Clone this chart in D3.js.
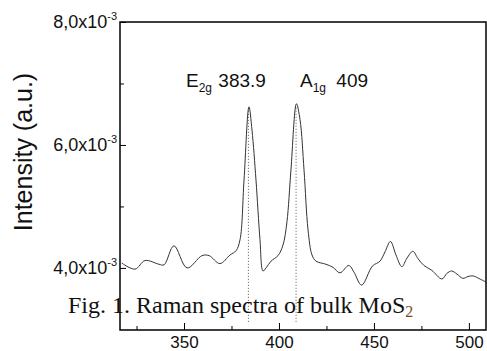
<!DOCTYPE html>
<html>
<head>
<meta charset="utf-8">
<script src="https://cdn.jsdelivr.net/npm/d3@7"></script>
<style>
  body { margin: 0; background: #fff; }
  text { font-family: "Liberation Sans", Arial, sans-serif; fill: #111; }
</style>
</head>
<body>
<div id="chart"></div>
<script>
// Raman shift (cm-1) and intensity (x1e-3)
const shift = [317.2, 324.2, 329.5, 336.8, 339.5, 344.7, 351.6, 359.5, 363.2, 368.9,
  374.2, 377.4, 379.5, 381.6, 384.2, 385.8, 387.9, 390.0, 391.6, 393.2,
  395.8, 399.5, 402.1, 404.2, 406.3, 409.2, 411.1, 413.2, 415.3, 417.4,
  419.5, 424.7, 428.4, 432.1, 436.8, 439.5, 443.5, 449.2, 453.2, 455.8,
  458.7, 461.6, 464.7, 467.4, 470.5, 473.2, 476.3, 480.5, 485.8, 488.4,
  490.9, 493.7, 496.8, 499.5, 502.1, 505.8, 509.0];
const intensity = [4.08, 3.98, 4.12, 4.06, 4.05, 4.36, 4.00, 4.20, 4.20, 4.07,
  4.21, 4.28, 4.46, 5.43, 6.62, 6.24, 5.43, 4.46, 3.95, 4.00,
  4.11, 4.20, 4.37, 4.75, 5.59, 6.67, 6.41, 5.59, 4.62, 4.21,
  4.11, 4.06, 4.01, 3.92, 4.04, 3.93, 3.72, 4.03, 4.11, 4.26,
  4.43, 4.21, 4.02, 4.16, 4.27, 4.15, 4.04, 3.96, 3.82, 3.91,
  3.95, 3.90, 3.83, 3.86, 3.87, 3.82, 3.77];

const xMajor = [350, 400, 450, 500];
const xMinor = [325, 375, 425, 475];
const yMajor = [4, 6, 8];
const yMinor = [5, 7];
const yTickText = ["4,0x10", "6,0x10", "8,0x10"];

// peak markers
const peakPos = [383.9, 409];
const peakTop = [6.62, 6.67];
const peakName = ["E", "A"];
const peakSub = ["2g", "1g"];
const peakVal = ["383.9", "409"];

const W = 487, H = 351;
const margin = { top: 22, right: 1, bottom: 21, left: 120 };
const width = W - margin.left - margin.right;
const height = H - margin.top - margin.bottom;

const svg = d3.select("#chart").append("svg")
  .attr("width", W)
  .attr("height", H);

const g = svg.append("g")
  .attr("transform", `translate(${margin.left}, ${margin.top})`);

const x = d3.scaleLinear().domain([316.3, 509]).range([0, width]);
const y = d3.scaleLinear().domain([2.99, 8.0]).range([height, 0]);

const data = shift.map((s, i) => ({ s: s, v: intensity[i] }));

// caption sits under the curve
const cap = svg.append("text")
  .attr("x", 68)
  .attr("y", 313)
  .style("font-family", "'Liberation Serif', 'Times New Roman', serif")
  .style("font-size", "24px");
cap.append("tspan").text("Fig. 1. Raman spectra of bulk MoS");
cap.append("tspan").attr("dy", 4).style("font-size", "16px").style("fill", "#7a4a1e").text("2");

// dotted peak guides
g.selectAll(".guide")
  .data(peakPos)
  .enter().append("line")
  .attr("class", "guide")
  .attr("x1", d => x(d)).attr("x2", d => x(d))
  .attr("y1", (d, i) => y(peakTop[i]) + 4)
  .attr("y2", height - 7)
  .attr("stroke", "#555")
  .attr("stroke-width", 1)
  .attr("stroke-dasharray", "1,2");

// spectrum
const line = d3.line()
  .x(d => x(d.s))
  .y(d => y(d.v))
  .curve(d3.curveCatmullRom.alpha(0.5));

g.append("path")
  .datum(data)
  .attr("fill", "none")
  .attr("stroke", "#333")
  .attr("stroke-width", 1)
  .attr("d", line);

// frame
g.append("rect")
  .attr("width", width).attr("height", height)
  .attr("fill", "none")
  .attr("stroke", "#000")
  .attr("stroke-width", 1.5);

// x axis, ticks inside
const xAxis = d3.axisBottom(x).tickValues(xMajor).tickSize(-7).tickPadding(6).tickFormat(d3.format("d"));
const xg = g.append("g").attr("transform", `translate(0, ${height})`).call(xAxis);
xg.select(".domain").remove();
xg.selectAll("text").style("font-size", "17px").style("font-family", "'Liberation Sans', Arial, sans-serif");

const xAxisMinor = d3.axisBottom(x).tickValues(xMinor).tickSize(-4).tickFormat("");
const xgm = g.append("g").attr("transform", `translate(0, ${height})`).call(xAxisMinor);
xgm.select(".domain").remove();

// y axis, ticks inside, labels built by hand for the superscript
const yAxis = d3.axisLeft(y).tickValues(yMajor).tickSize(-6).tickFormat("");
const yg = g.append("g").call(yAxis);
yg.select(".domain").remove();

const yAxisMinor = d3.axisLeft(y).tickValues(yMinor).tickSize(-4).tickFormat("");
const ygm = g.append("g").call(yAxisMinor);
ygm.select(".domain").remove();

const yl = g.selectAll(".ylab")
  .data(yMajor)
  .enter().append("text")
  .attr("class", "ylab")
  .attr("x", -3)
  .attr("y", d => y(d) + 6)
  .attr("text-anchor", "end")
  .style("font-size", "18px");
yl.append("tspan").text((d, i) => yTickText[i]);
yl.append("tspan").attr("dy", -8).style("font-size", "11px").text("-3");

// y title
svg.append("text")
  .attr("transform", `translate(32, 152) rotate(-90)`)
  .attr("text-anchor", "middle")
  .style("font-size", "25px")
  .text("Intensity (a.u.)");

// peak labels
const lbl = g.selectAll(".peak")
  .data(peakPos)
  .enter().append("text")
  .attr("class", "peak")
  .attr("x", (d, i) => i === 0 ? 66 : 180)
  .attr("y", 65)
  .style("font-size", "19px");
lbl.append("tspan").text((d, i) => peakName[i]);
lbl.append("tspan").attr("dy", 5).style("font-size", "12px").text((d, i) => peakSub[i]);
lbl.append("tspan").attr("dy", -5).attr("dx", (d, i) => i === 0 ? 1 : 5).text((d, i) => " " + peakVal[i]);
</script>
</body>
</html>
